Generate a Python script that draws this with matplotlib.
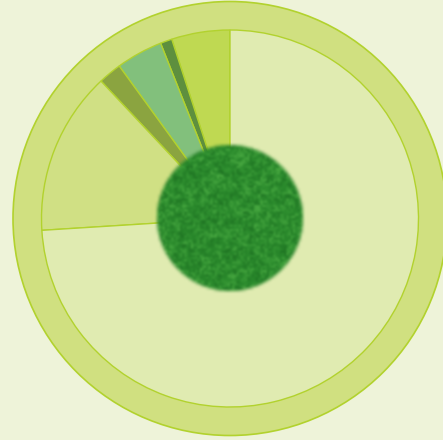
import numpy as np
import matplotlib
matplotlib.use("Agg")
import matplotlib.pyplot as plt
from matplotlib.patches import Circle

# Data (percent shares), starting at 12 o'clock going counter-clockwise
labels = ["A", "B", "C", "D", "E", "F"]
values = [5, 1, 4, 2, 14, 74]
colors = ["#bfd952", "#5e8f3e", "#82c07c", "#8ba440", "#d0e084", "#e0ebb1"]

W, H = 443, 440
fig = plt.figure(figsize=(W / 100, H / 100), dpi=100)
fig.patch.set_facecolor("#eef3d9")
ax = fig.add_axes([0, 0, 1, 1])

cx, cy = 230, 221.5
edge = "#b2d22e"

# outer ring
ax.add_patch(Circle((cx, cy), 217, facecolor="#d0e080", edgecolor=edge, lw=1.2, zorder=1))

wedges, _ = ax.pie(values, colors=colors, startangle=90, counterclock=True, center=(cx, cy),
                   radius=188.5, frame=True,
                   wedgeprops=dict(edgecolor=edge, linewidth=1.0), normalize=True)
for w in wedges:
    w.set_zorder(2)
ax.set_xlim(0, W)
ax.set_ylim(0, H)
ax.set_aspect("equal")
ax.axis("off")

# textured center disc (deterministic hash texture)
r = 76
n = 70
xs = np.linspace(-1, 1, n)
X, Y = np.meshgrid(xs, xs)
def hashn(a, b, s):
    v = np.sin(a * 12.9898 * s + b * 78.233 + s) * 43758.5453
    return v - np.floor(v)
ix = np.floor((X + 1) * 35)
iy = np.floor((Y + 1) * 35)
t = 0.65 * hashn(ix, iy, 1.0) + 0.35 * hashn(np.floor((X + 1) * 12), np.floor((Y + 1) * 12), 2.0)
base = np.array([0x2a, 0x8a, 0x2c]) / 255
light = np.array([0x4a, 0xaa, 0x42]) / 255
dark = np.array([0x1e, 0x72, 0x22]) / 255
tt = t[..., None]
img = np.where(tt > 0.5, base + (light - base) * (tt - 0.5) * 2,
               dark + (base - dark) * tt * 2)
R = np.sqrt(X ** 2 + Y ** 2)
alpha = np.clip((1.0 - R) / 0.05, 0, 1)
rgba = np.dstack([img, alpha])
ax.imshow(rgba, extent=(cx - r, cx + r, cy - r, cy + r), origin="lower",
          interpolation="bicubic", zorder=5)
ax.set_xlim(0, W)
ax.set_ylim(0, H)

fig.savefig("out.png", dpi=100, facecolor=fig.get_facecolor())
